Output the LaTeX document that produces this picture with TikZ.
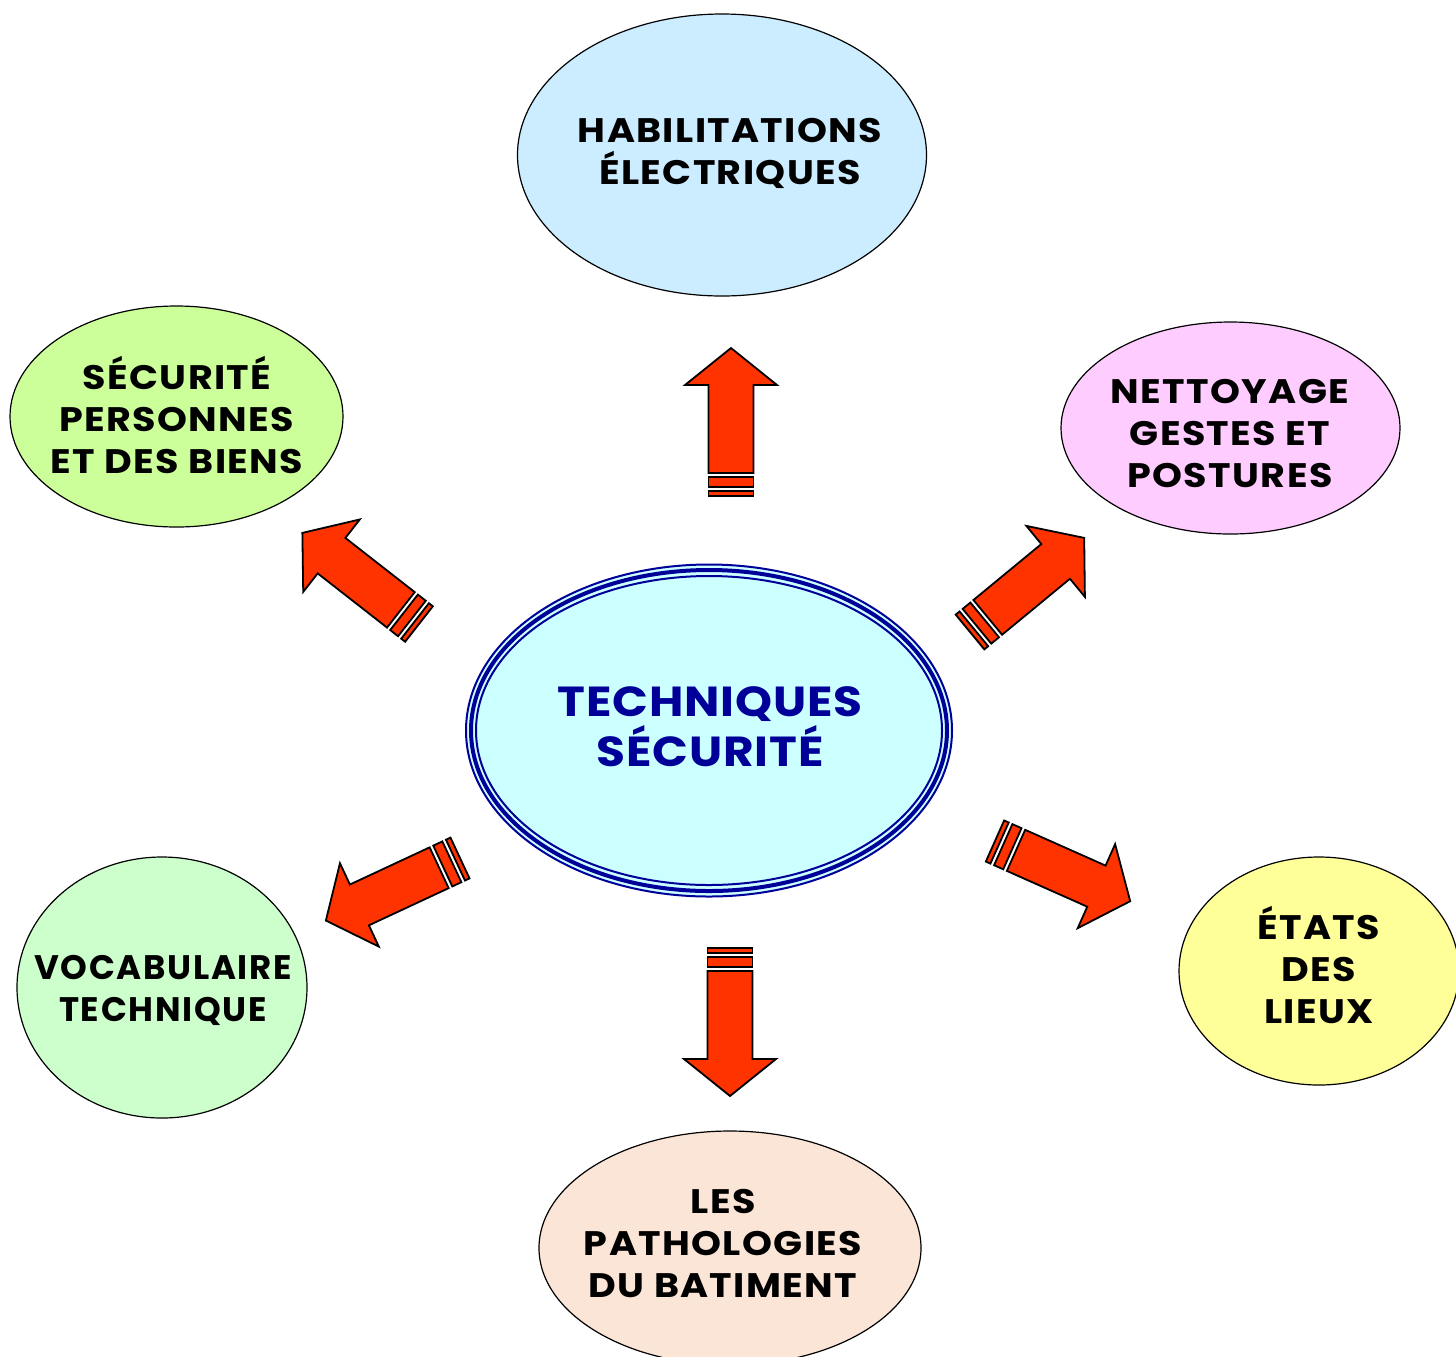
\documentclass[tikz,border=0pt]{standalone}
\usepackage{fontspec}
\setmainfont{Poppins}
\definecolor{arrowred}{HTML}{FF3300}
\definecolor{navy}{HTML}{000099}
\definecolor{cblue}{HTML}{CCECFF}
\definecolor{cgreen}{HTML}{CCFF99}
\definecolor{cpink}{HTML}{FFCCFF}
\definecolor{cmint}{HTML}{CCFFCC}
\definecolor{cpeach}{HTML}{FBE5D6}
\definecolor{cyellow}{HTML}{FFFF99}
\definecolor{ccyan}{HTML}{CCFFFF}
\tikzset{
  bubble/.style={draw=black, line width=0.6pt},
  label/.style={align=center, font=\bfseries\fontsize{17}{21}\selectfont\addfontfeatures{FakeStretch=1.12, LetterSpace=4}, inner sep=0pt},
  narrowlabel/.style={align=center, font=\bfseries\fontsize{17}{21}\selectfont\addfontfeatures{LetterSpace=5}, inner sep=0pt},
  blockarrow/.style={draw=black, fill=arrowred, line width=0.9pt, line join=miter},
}
\newcommand{\stripedarrow}[3]{%
  \begin{scope}[shift={(#1,#2)}, rotate=#3]
    \draw[blockarrow] (0,-22.5) rectangle (5,22.5);
    \draw[blockarrow] (9,-22.5) rectangle (19,22.5);
    \draw[blockarrow] (23,-22.5) -- (111,-22.5) -- (111,-46) -- (148,0) -- (111,46) -- (111,22.5) -- (23,22.5) -- cycle;
  \end{scope}}
\begin{document}
\begin{tikzpicture}[x=0.5pt, y=-0.5pt]
\useasboundingbox (0,0) rectangle (1456,1356);
% outer ellipses
\draw[bubble, fill=cblue] (722,155) ellipse [x radius=204.5, y radius=141];
\node[label] (habil) at (730,153) {HABILITATIONS\\ÉLECTRIQUES};
\draw[bubble, fill=cgreen] (176.5,416.5) ellipse [x radius=166.5, y radius=110.5];
\node[label] (secu) at (177,415) {SÉCURITÉ\\PERSONNES\\ET DES BIENS};
\draw[bubble, fill=cpink] (1230.5,428) ellipse [x radius=169.5, y radius=106];
\node[label] (nett) at (1230,434) {NETTOYAGE\\GESTES ET\\POSTURES};
\draw[bubble, fill=cmint] (162,987.5) ellipse [x radius=145, y radius=130.5];
\node[narrowlabel] (voca) at (163,990) {VOCABULAIRE\\TECHNIQUE};
\draw[bubble, fill=cpeach] (730,1248) ellipse [x radius=191, y radius=117];
\node[label] (patho) at (723,1243) {LES\\PATHOLOGIES\\DU BATIMENT};
\draw[bubble, fill=cyellow] (1319,971) ellipse [x radius=140, y radius=114];
\node[label] (etats) at (1319,965) {ÉTATS\\DES\\LIEUX};
% centre
\fill[ccyan] (709,730.5) ellipse [x radius=243, y radius=166];
\draw[navy, line width=1pt] (709,730.5) ellipse [x radius=243, y radius=166];
\draw[navy, line width=2pt] (709,730.5) ellipse [x radius=238, y radius=160.5];
\draw[navy, line width=1pt] (709,730.5) ellipse [x radius=233, y radius=154.5];
\node[align=center, inner sep=0pt, text=navy, font=\bfseries\fontsize{21}{25}\selectfont\addfontfeatures{FakeStretch=1.12, LetterSpace=2}] (centre) at (710,727) {TECHNIQUES\\SÉCURITÉ};
% arrows
\stripedarrow{731}{496}{90}
\stripedarrow{730}{948}{-90}
\stripedarrow{419}{624}{142}
\stripedarrow{970}{632}{39.5}
\stripedarrow{460}{858}{205}
\stripedarrow{995}{841}{-24}
\end{tikzpicture}
\end{document}
